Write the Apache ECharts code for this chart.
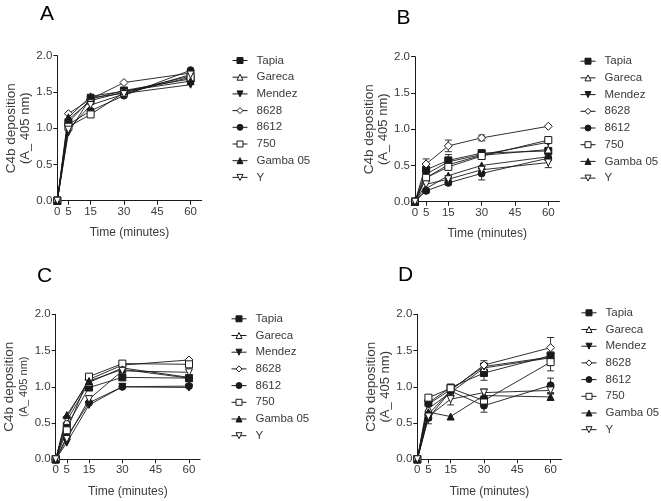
<!DOCTYPE html>
<html>
<head>
<meta charset="utf-8">
<script src="https://cdn.jsdelivr.net/npm/echarts@6/dist/echarts.min.js"></script>
<style>html,body{margin:0;padding:0;background:#fff}#c{width:661px;height:501px}</style>
</head>
<body>
<div id="c"></div>
<script>
const times = [0, 5, 15, 30, 60];
const xTicks = [0, 5, 15, 30, 45, 60];
const strains = ['Tapia', 'Gareca', 'Mendez', '8628', '8612', '750', 'Gamba 05', 'Y'];
const panelLabels = ['A', 'B', 'C', 'D'];
const yNames = ['C4b deposition', 'C4b deposition', 'C4b deposition', 'C3b deposition'];
const yUnit = '(A_ 405 nm)';
const xName = 'Time (minutes)';

// Panel A
const aTapia  = [0, 1.08, 1.40, 1.52, 1.68];
const aGareca = [0, 1.12, 1.38, 1.50, 1.72];
const aMendez = [0, 0.94, 1.42, 1.48, 1.60];
const a8628   = [0, 1.20, 1.40, 1.63, 1.76];
const a8612   = [0, 1.05, 1.24, 1.45, 1.80];
const a750    = [0, 1.02, 1.19, 1.49, 1.70];
const aGamba  = [0, 1.15, 1.44, 1.51, 1.65];
const aY      = [0, 0.98, 1.32, 1.47, 1.74];

// Panel B
const bTapia  = [0, 0.44, 0.57, 0.67, 0.70];
const bGareca = [0, 0.33, 0.51, 0.64, 0.72];
const bMendez = [0, 0.38, 0.55, 0.65, 0.82];
const b8628   = [0, 0.52, 0.77, 0.88, 1.04];
const b8612   = [0, 0.15, 0.26, 0.39, 0.60];
const b750    = [0, 0.33, 0.48, 0.63, 0.85];
const bGamba  = [0, 0.18, 0.36, 0.50, 0.62];
const bY      = [0, 0.24, 0.31, 0.44, 0.54];

// Panel C
const cTapia  = [0, 0.46, 0.99, 1.13, 1.12];
const cGareca = [0, 0.53, 1.06, 1.26, 1.13];
const cMendez = [0, 0.23, 0.75, 1.00, 0.99];
const c8628   = [0, 0.58, 1.10, 1.30, 1.37];
const c8612   = [0, 0.31, 0.78, 1.00, 1.01];
const c750    = [0, 0.40, 1.14, 1.32, 1.31];
const cGamba  = [0, 0.61, 1.08, 1.24, 1.12];
const cY      = [0, 0.28, 0.83, 1.22, 1.20];

// Panel D
const dTapia  = [0, 0.78, 0.99, 1.19, 1.43];
const dGareca = [0, 0.70, 0.92, 1.26, 1.40];
const dMendez = [0, 0.76, 0.96, 1.28, 1.41];
const d8628   = [0, 0.62, 0.95, 1.30, 1.54];
const d8612   = [0, 0.57, 0.94, 0.74, 1.02];
const d750    = [0, 0.85, 0.98, 0.81, 1.34];
const dGamba  = [0, 0.65, 0.59, 0.88, 0.86];
const dY      = [0, 0.59, 0.83, 0.92, 0.95];

// Error bars (SEM) where visible
const noErr      = [0, 0, 0, 0, 0];
const bTapiaErr  = [0, 0.03, 0.08, 0.03, 0.03];
const b8628Err   = [0, 0.07, 0.08, 0.04, 0];
const b8612Err   = [0, 0.03, 0.03, 0.09, 0.03];
const bYErr      = [0, 0, 0, 0, 0.07];
const dTapiaErr  = [0, 0.03, 0.04, 0.10, 0.05];
const dMendezErr = [0, 0, 0, 0.04, 0.03];
const d8628Err   = [0, 0.04, 0.03, 0.06, 0.14];
const d8612Err   = [0, 0.08, 0.03, 0.09, 0.10];
const d750Err    = [0, 0.03, 0.03, 0.06, 0.12];
const dGambaErr  = [0, 0, 0, 0, 0.04];
const dYErr      = [0, 0.05, 0.08, 0.05, 0.04];

const panels = [
  [aTapia, aGareca, aMendez, a8628, a8612, a750, aGamba, aY],
  [bTapia, bGareca, bMendez, b8628, b8612, b750, bGamba, bY],
  [cTapia, cGareca, cMendez, c8628, c8612, c750, cGamba, cY],
  [dTapia, dGareca, dMendez, d8628, d8612, d750, dGamba, dY]
];
const panelErrs = [
  [noErr, noErr, noErr, noErr, noErr, noErr, noErr, noErr],
  [bTapiaErr, noErr, noErr, b8628Err, b8612Err, noErr, noErr, bYErr],
  [noErr, noErr, noErr, noErr, noErr, noErr, noErr, noErr],
  [dTapiaErr, noErr, dMendezErr, d8628Err, d8612Err, d750Err, dGambaErr, dYErr]
];

const downTri = 'path://M0,0L10,0L5,8.66Z';
const symbols = ['rect', 'triangle', downTri, 'diamond', 'circle', 'rect', 'triangle', downTri];
const filled  = [true, false, true, false, true, false, true, false];

const FONT = 'Liberation Sans, Arial, Helvetica, sans-serif';
const INK = '#1a1a1a';
const TXT = '#3a3a3a';

const grids = [
  {left: 57.3, top: 55.7, width: 144.4, height: 145},
  {left: 415,  top: 56.7, width: 144.4, height: 145},
  {left: 55.7, top: 314.3, width: 144.4, height: 145},
  {left: 417.3, top: 314.3, width: 144.4, height: 145}
];
const legendPos = [
  {left: 232, top: 53.5},
  {left: 580, top: 54.2},
  {left: 231, top: 311.8},
  {left: 581, top: 305.8}
];
const labelPos = [[47, 13], [403.5, 17.5], [44.5, 275], [405.5, 274]];

const xAxes = [], yAxes = [], series = [], legends = [], graphics = [];
for (let p = 0; p < 4; p++) {
  xAxes.push({
    type: 'value', gridIndex: p, min: 0, max: 65,
    name: xName, nameLocation: 'middle', nameGap: 26,
    nameTextStyle: {fontFamily: FONT, fontSize: 12, color: TXT},
    axisLine: {show: true, onZero: false, lineStyle: {color: INK, width: 1}},
    axisTick: {show: true, length: 4, inside: false, customValues: xTicks, lineStyle: {color: INK}},
    axisLabel: {customValues: xTicks, margin: 5, fontFamily: FONT, fontSize: 11.5, color: TXT},
    splitLine: {show: false}
  });
  yAxes.push({
    type: 'value', gridIndex: p, min: 0, max: 2, interval: 0.5,
    name: '{a|' + yNames[p] + '}\n{b|' + yUnit + '}',
    nameLocation: 'middle', nameRotate: 90, nameGap: 25,
    nameTextStyle: {
      fontFamily: FONT, color: TXT,
      rich: {
        a: {fontFamily: FONT, fontSize: 13.5, color: TXT, lineHeight: 14},
        b: {fontFamily: FONT, fontSize: p === 2 ? 11 : 13, color: TXT, lineHeight: 14}
      }
    },
    axisLine: {show: true, onZero: false, lineStyle: {color: INK, width: 1}},
    axisTick: {show: true, length: 4, lineStyle: {color: INK}},
    axisLabel: {margin: 5, fontFamily: FONT, fontSize: 11.5, color: TXT, formatter: v => v.toFixed(1)},
    splitLine: {show: false}
  });
  const errData = [];
  for (let s = 0; s < 8; s++) {
    const vals = panels[p][s];
    series.push({
      type: 'line', name: strains[s], xAxisIndex: p, yAxisIndex: p,
      data: times.map((t, j) => [t, vals[j]]),
      symbol: symbols[s], symbolSize: s === 3 ? 8 : 7,
      itemStyle: {color: filled[s] ? INK : '#fff', borderColor: INK, borderWidth: 1},
      lineStyle: {color: INK, width: 0.9},
      emphasis: {disabled: true},
      z: 3, animation: false
    });
    const errs = panelErrs[p][s];
    times.forEach((t, j) => { if (errs[j] > 0) errData.push([t, vals[j], errs[j]]); });
  }
  series.push({
    type: 'custom', xAxisIndex: p, yAxisIndex: p, data: errData, z: 2, animation: false,
    silent: true,
    renderItem: function (params, api) {
      const x = api.value(0), y = api.value(1), e = api.value(2);
      const hi = api.coord([x, y + e]);
      const lo = api.coord([x, y - e]);
      const w = 3.5;
      const st = {stroke: INK, lineWidth: 0.9};
      return {type: 'group', children: [
        {type: 'line', shape: {x1: hi[0], y1: hi[1], x2: lo[0], y2: lo[1]}, style: st},
        {type: 'line', shape: {x1: hi[0] - w, y1: hi[1], x2: hi[0] + w, y2: hi[1]}, style: st},
        {type: 'line', shape: {x1: lo[0] - w, y1: lo[1], x2: lo[0] + w, y2: lo[1]}, style: st}
      ]};
    }
  });
  legends.push({
    data: strains, orient: 'vertical', left: legendPos[p].left, top: legendPos[p].top,
    itemWidth: 15, itemHeight: 7.5, itemGap: 2.7, padding: 0, selectedMode: false,
    lineStyle: {width: 1, color: INK},
    itemStyle: {borderWidth: 1, borderColor: INK},
    textStyle: {fontFamily: FONT, fontSize: 11.5, color: TXT, lineHeight: 14, padding: [0, 0, 0, 4]}
  });
  graphics.push({
    type: 'text', x: labelPos[p][0], y: labelPos[p][1] + 1,
    style: {text: panelLabels[p], font: '21px ' + FONT, fill: '#000', textAlign: 'center', textVerticalAlign: 'middle'}
  });
}

const chart = echarts.init(document.getElementById('c'), null, {renderer: 'canvas'});
chart.setOption({
  backgroundColor: '#fff',
  animation: false,
  grid: grids,
  xAxis: xAxes,
  yAxis: yAxes,
  legend: legends,
  graphic: graphics,
  series: series
});
</script>
</body>
</html>
